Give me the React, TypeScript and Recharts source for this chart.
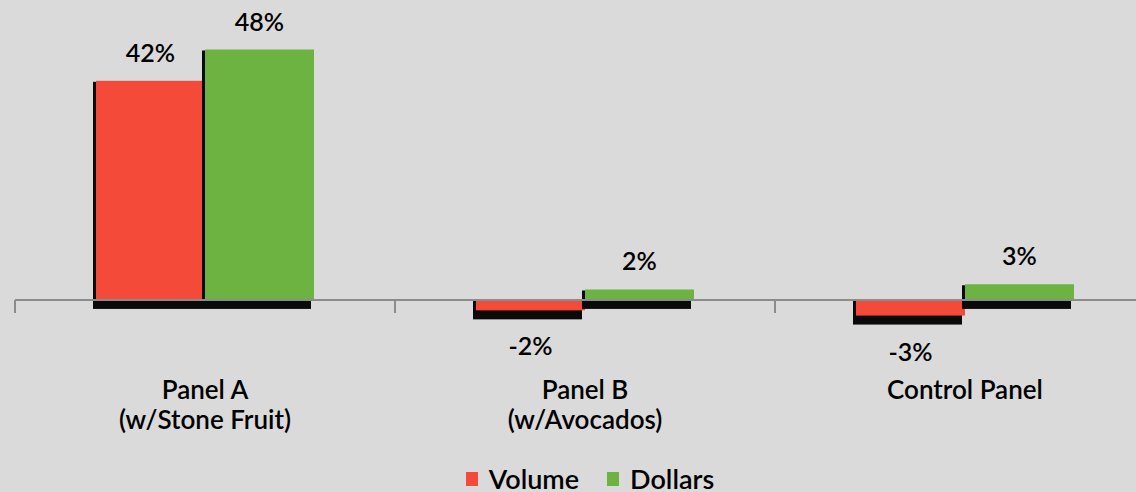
import { Bar, BarChart, LabelList, Legend, ReferenceLine, XAxis, YAxis } from "recharts"

const panels = ["Panel A", "Panel B", "Control Panel"]
const panelNotes = ["(w/Stone Fruit)", "(w/Avocados)", ""]
const volume = [42, -2, -3]
const dollars = [48, 2, 3]

const seriesOrder = ["Volume", "Dollars"]
const RED = "#f34a39"
const GREEN = "#6db341"
const BG = "#dadada"
const FONT = "Lato, 'Open Sans', sans-serif"

const data = panels.map((name, i) => ({
  name,
  note: panelNotes[i],
  volume: volume[i],
  dollars: dollars[i],
}))

// bar with a dark drop shadow pushed left and below
function ShadowBar(props: any) {
  const { x, y, width, height, fill } = props
  const top = Math.min(y, y + height)
  const h = Math.abs(height)
  return (
    <g>
      <rect x={x - 3} y={top + 1} width={width} height={h + 8} fill="#0a0a0a" />
      <rect x={x} y={top} width={width} height={h} fill={fill} />
    </g>
  )
}

function ValueLabel(props: any) {
  const { x, y, width, height, value } = props
  const top = Math.min(y, y + height)
  const bottom = Math.max(y, y + height)
  const cy = value >= 0 ? top - 29 : bottom + 35
  return (
    <text
      x={x + width / 2}
      y={cy}
      textAnchor="middle"
      dominantBaseline="central"
      fontFamily={FONT}
      fontSize={25}
      fontWeight={600}
      fill="#000"
    >
      {`${value}%`}
    </text>
  )
}

function PanelTick(props: any) {
  const { x, payload } = props
  const note = panelNotes[payload.index]
  return (
    <text x={x} textAnchor="middle" fontFamily={FONT} fontSize={26} fontWeight={600} fill="#000">
      <tspan x={x} y={399}>{payload.value}</tspan>
      {note && <tspan x={x} y={429}>{note}</tspan>}
    </text>
  )
}

// zero line with tick marks on the category boundaries
function ZeroAxis(props: any) {
  const { x1, x2, y1 } = props
  const step = (x2 - x1) / panels.length
  const marks = Array.from({ length: panels.length + 1 }, (_, i) => x1 + i * step)
  return (
    <g>
      <line x1={x1} x2={x2} y1={y1} y2={y1} stroke="#8c8c8c" strokeWidth={2} />
      {marks.map((mx) => (
        <line key={mx} x1={mx} x2={mx} y1={y1} y2={y1 + 13} stroke="#8c8c8c" strokeWidth={2} />
      ))}
    </g>
  )
}

function LegendContent(props: any) {
  const items = [...(props.payload || [])].sort(
    (a: any, b: any) => seriesOrder.indexOf(a.value) - seriesOrder.indexOf(b.value)
  )
  return (
    <div style={{ display: "flex", justifyContent: "center", gap: 28, fontFamily: FONT, fontSize: 27, fontWeight: 600 }}>
      {items.map((it: any) => (
        <div key={it.value} style={{ display: "flex", alignItems: "center", gap: 11 }}>
          <span style={{ width: 12, height: 14, background: it.color, display: "inline-block" }} />
          <span>{it.value}</span>
        </div>
      ))}
    </div>
  )
}

export default function App() {
  return (
    <div style={{ position: "absolute", left: 0, top: 0, width: 1136, height: 492, overflow: "hidden", background: BG }}>
      <BarChart
        width={1160}
        height={492}
        data={data}
        margin={{ top: 13, right: 5, left: 15, bottom: 0 }}
        barCategoryGap={81}
        barGap={0}
      >
        <YAxis hide domain={[-5, 55]} allowDataOverflow />
        <XAxis dataKey="name" height={166} axisLine={false} tickLine={false} tick={<PanelTick />} interval={0} />
        <ReferenceLine y={0} shape={<ZeroAxis />} />
        <Legend
          layout="horizontal"
          verticalAlign="middle"
          content={<LegendContent />}
          wrapperStyle={{ top: 462, left: 0, width: 1180 }}
        />
        <Bar dataKey="volume" name={seriesOrder[0]} fill={RED} shape={<ShadowBar />} isAnimationActive={false}>
          <LabelList dataKey="volume" content={<ValueLabel />} />
        </Bar>
        <Bar dataKey="dollars" name={seriesOrder[1]} fill={GREEN} shape={<ShadowBar />} isAnimationActive={false}>
          <LabelList dataKey="dollars" content={<ValueLabel />} />
        </Bar>
      </BarChart>
    </div>
  )
}
